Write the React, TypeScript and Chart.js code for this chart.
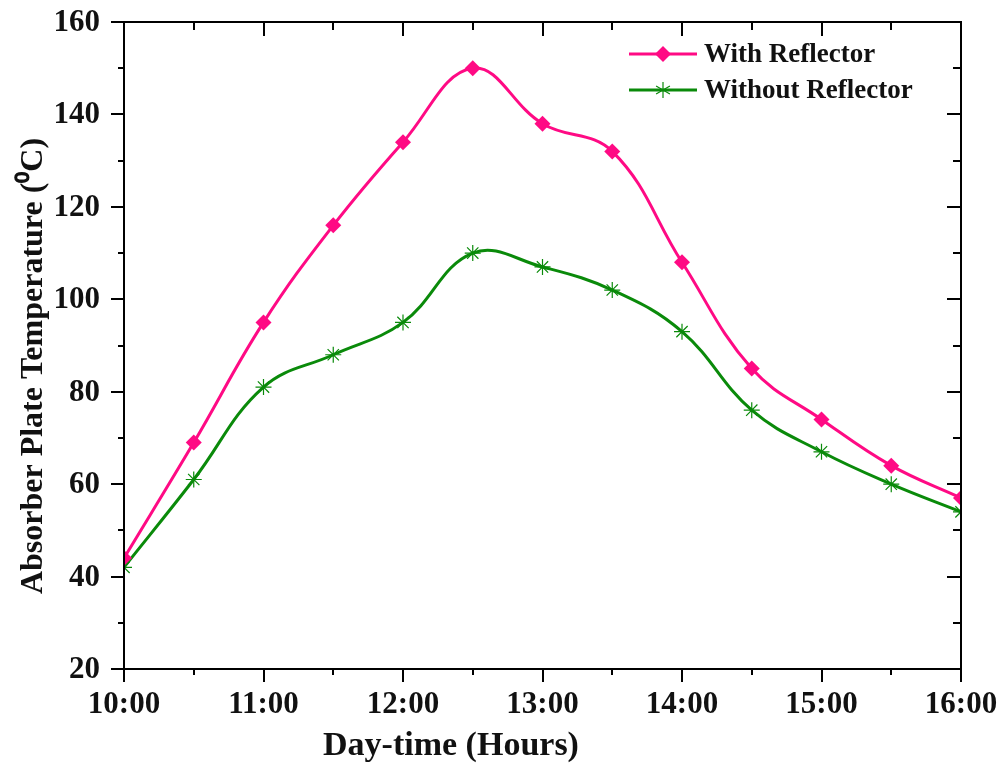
import React, { useEffect, useRef } from "react";
import { Chart, registerables } from "chart.js";
Chart.register(...registerables);

const hours = [10, 10.5, 11, 11.5, 12, 12.5, 13, 13.5, 14, 14.5, 15, 15.5, 16];
const withReflector = [44, 69, 95, 116, 134, 150, 138, 132, 108, 85, 74, 64, 57];
const withoutReflector = [42, 61, 81, 88, 95, 110, 107, 102, 93, 76, 67, 60, 54];
const xTickValues = [10, 11, 12, 13, 14, 15, 16];
const xTickLabels = ["10:00", "11:00", "12:00", "13:00", "14:00", "15:00", "16:00"];
const yTickValues = [20, 40, 60, 80, 100, 120, 140, 160];
const seriesNames = ["With Reflector", "Without Reflector"];
const xTitle = "Day-time (Hours)";
const yTitle = "Absorber Plate Temperature (\u2070C)";

const PINK = "#FF0A84";
const GREEN = "#0A8A0A";
const FONT = "'Liberation Serif', 'Times New Roman', serif";

const decorPlugin = {
  id: "decor",
  afterDraw(chart: any) {
    const { ctx, chartArea, scales } = chart;
    const { left, right, top, bottom } = chartArea;
    const x = scales.x;
    const y = scales.y;
    ctx.save();
    ctx.strokeStyle = "#000";
    ctx.lineWidth = 2;
    ctx.strokeRect(left, top, right - left, bottom - top);
    ctx.beginPath();
    for (let i = 0; i <= 12; i++) {
      const v = x.min + i * 0.5;
      const px = Math.round(x.getPixelForValue(v));
      const major = i % 2 === 0;
      ctx.moveTo(px, bottom);
      ctx.lineTo(px, bottom + (major ? 13 : 6));
      ctx.moveTo(px, top);
      ctx.lineTo(px, top + (major ? 14 : 8));
    }
    for (let i = 0; i <= 14; i++) {
      const v = y.min + i * 10;
      const py = Math.round(y.getPixelForValue(v));
      const major = i % 2 === 0;
      ctx.moveTo(left, py);
      ctx.lineTo(left - (major ? 13 : 6), py);
      ctx.moveTo(right, py);
      ctx.lineTo(right - (major ? 14 : 8), py);
    }
    ctx.stroke();

    // tick labels
    ctx.fillStyle = "#111";
    ctx.font = `bold 31px ${FONT}`;
    ctx.textAlign = "center";
    ctx.textBaseline = "middle";
    xTickValues.forEach((v, i) => {
      ctx.fillText(xTickLabels[i], x.getPixelForValue(v), bottom + 36);
    });
    ctx.textAlign = "right";
    yTickValues.forEach((v) => {
      ctx.fillText(String(v), left - 24, y.getPixelForValue(v) + 1);
    });

    // axis titles
    ctx.textAlign = "center";
    ctx.font = `bold 34px ${FONT}`;
    ctx.fillText(xTitle, 451, 746);
    ctx.save();
    ctx.translate(34, 366);
    ctx.rotate(-Math.PI / 2);
    ctx.font = `bold 32px ${FONT}`;
    ctx.fillText(yTitle, 0, 0);
    ctx.restore();

    // legend
    const items = [
      { name: seriesNames[0], color: PINK, y: 54, style: "diamond" },
      { name: seriesNames[1], color: GREEN, y: 90, style: "star" },
    ];
    ctx.font = `bold 27px ${FONT}`;
    ctx.textAlign = "left";
    for (const it of items) {
      ctx.strokeStyle = it.color;
      ctx.lineWidth = 3;
      ctx.beginPath();
      ctx.moveTo(629, it.y);
      ctx.lineTo(697, it.y);
      ctx.stroke();
      const cx = 663;
      if (it.style === "diamond") {
        ctx.fillStyle = it.color;
        ctx.beginPath();
        ctx.moveTo(cx, it.y - 8);
        ctx.lineTo(cx + 8, it.y);
        ctx.lineTo(cx, it.y + 8);
        ctx.lineTo(cx - 8, it.y);
        ctx.closePath();
        ctx.fill();
      } else {
        ctx.lineWidth = 1.2;
        ctx.beginPath();
        const r = 8;
        ctx.moveTo(cx, it.y - r);
        ctx.lineTo(cx, it.y + r);
        const d = r * 0.866;
        ctx.moveTo(cx - d, it.y - r / 2);
        ctx.lineTo(cx + d, it.y + r / 2);
        ctx.moveTo(cx - d, it.y + r / 2);
        ctx.lineTo(cx + d, it.y - r / 2);
        ctx.stroke();
      }
      ctx.fillStyle = "#111";
      ctx.fillText(it.name, 704, it.y + 1);
    }
    ctx.restore();
  },
};

export default function App() {
  const ref = useRef<HTMLCanvasElement>(null);
  useEffect(() => {
    if (!ref.current) return;
    const chart = new Chart(ref.current, {
      type: "line",
      data: {
        datasets: [
          {
            label: seriesNames[0],
            data: hours.map((h, i) => ({ x: h, y: withReflector[i] })),
            borderColor: PINK,
            backgroundColor: PINK,
            borderWidth: 3,
            pointStyle: "rectRot",
            pointRadius: 8,
            pointBorderWidth: 0,
            tension: 0.4,
            clip: 0,
          },
          {
            label: seriesNames[1],
            data: hours.map((h, i) => ({ x: h, y: withoutReflector[i] })),
            borderColor: GREEN,
            backgroundColor: GREEN,
            borderWidth: 3,
            pointStyle: "star",
            pointRadius: 8,
            pointBorderWidth: 1.2,
            tension: 0.4,
            clip: 0,
          },
        ],
      },
      options: {
        responsive: false,
        animation: false,
        layout: { padding: { left: 0, right: 39, top: 22, bottom: 0 } },
        plugins: { legend: { display: false }, tooltip: { enabled: false } },
        scales: {
          x: {
            type: "linear",
            min: 10,
            max: 16,
            grid: { display: false, drawTicks: false },
            border: { display: false },
            ticks: { display: false, stepSize: 1 },
            afterFit: (s: any) => {
              s.height = 96;
            },
          },
          y: {
            min: 20,
            max: 160,
            grid: { display: false, drawTicks: false },
            border: { display: false },
            ticks: { display: false, stepSize: 20 },
            afterFit: (s: any) => {
              s.width = 124;
            },
          },
        },
      },
      plugins: [decorPlugin],
    });
    return () => chart.destroy();
  }, []);
  return (
    <div style={{ position: "fixed", left: 0, top: 0, width: 1000, height: 765, background: "#fff" }}>
      <canvas ref={ref} width={1000} height={765} style={{ width: 1000, height: 765 }} />
    </div>
  );
}
